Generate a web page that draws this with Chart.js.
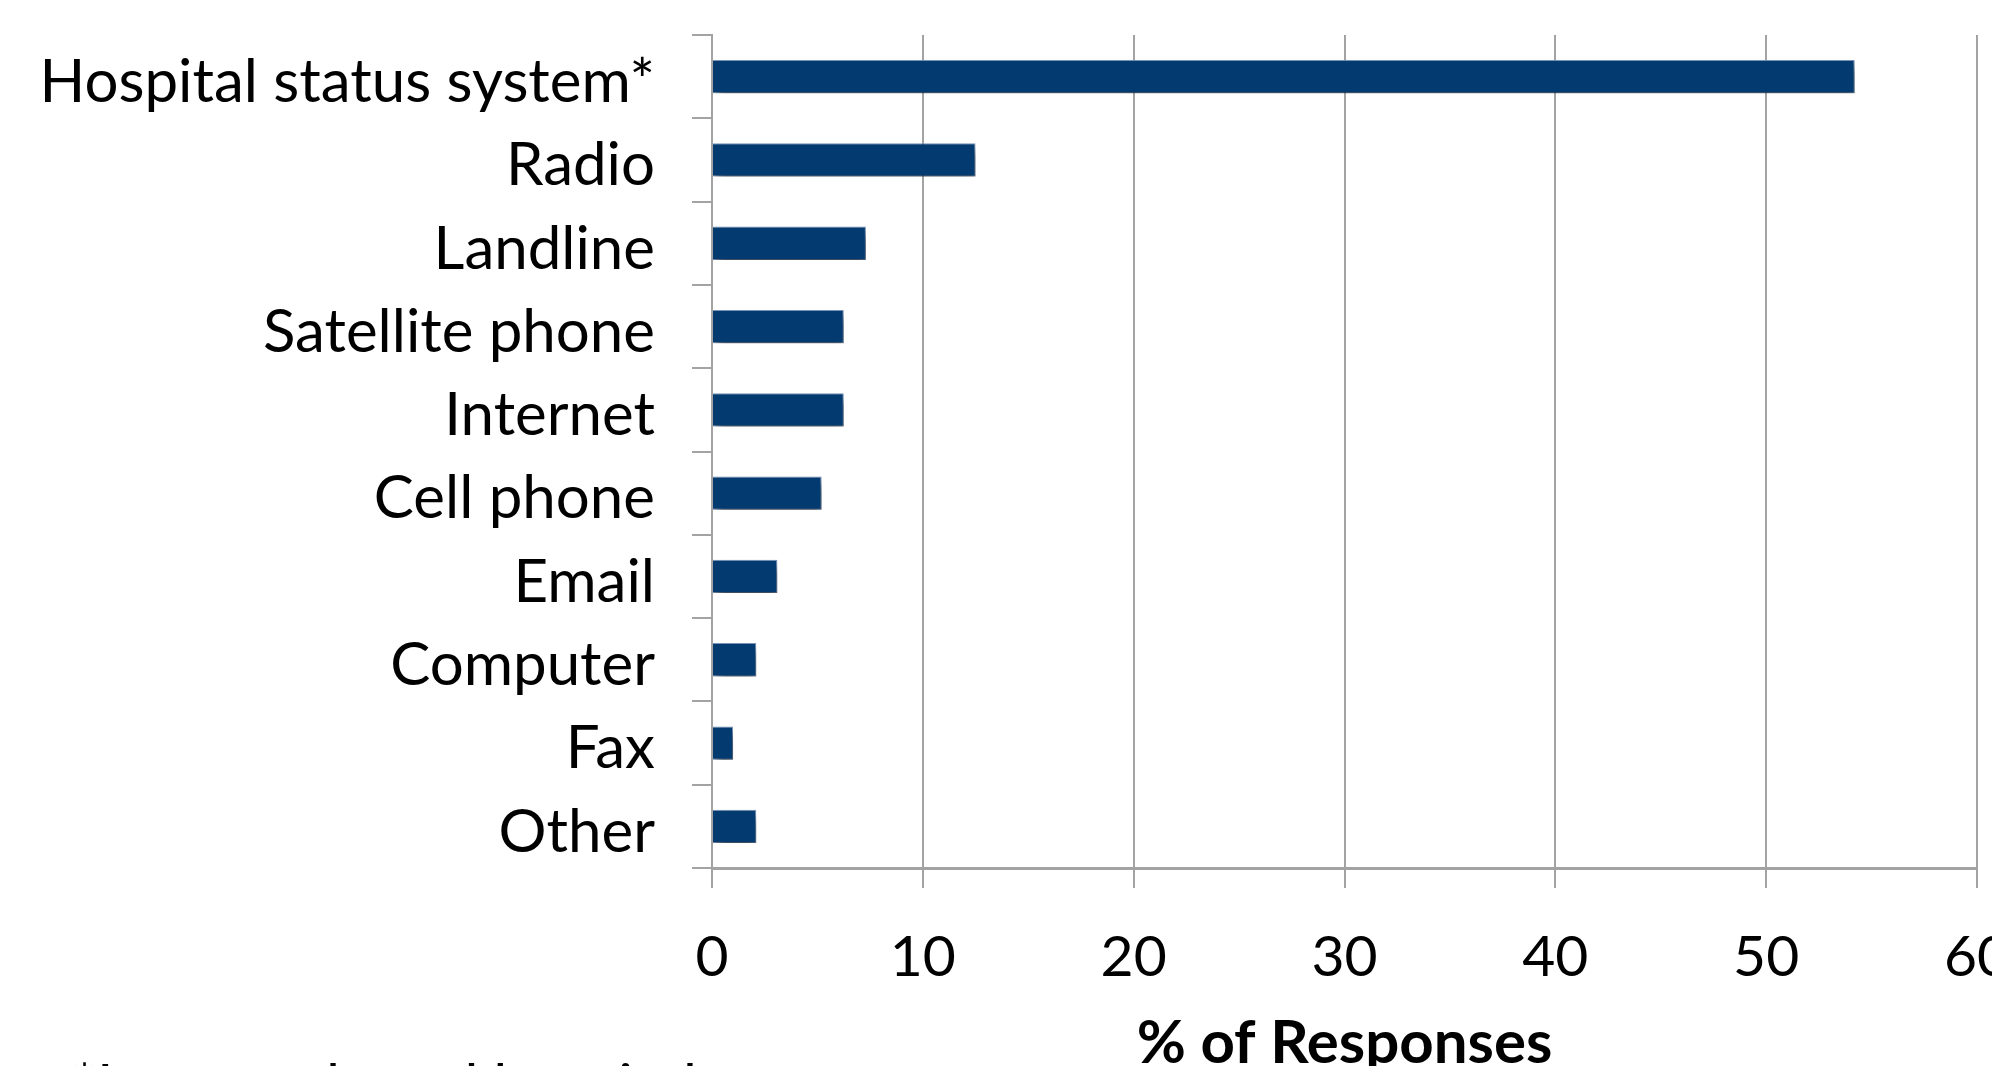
<!DOCTYPE html>
<html>
<head>
<meta charset="utf-8">
<script src="https://cdn.jsdelivr.net/npm/chart.js@4.4.1/dist/chart.umd.min.js"></script>
<style>
  html, body { margin: 0; padding: 0; background: #ffffff; overflow: hidden; width: 1992px; height: 1066px; }
  #wrap { position: absolute; left: 0; top: 0; width: 2100px; height: 1150px; }
  canvas { display: block; }
</style>
</head>
<body>
<div id="wrap"><canvas id="c" width="2100" height="1150"></canvas></div>
<script>
const categories = ['Hospital status system*', 'Radio', 'Landline', 'Satellite phone', 'Internet', 'Cell phone', 'Email', 'Computer', 'Fax', 'Other'];
const responsePercent = [54.2, 12.5, 7.3, 6.25, 6.25, 5.2, 3.1, 2.1, 1.0, 2.1];
const xTickValues = [0, 10, 20, 30, 40, 50, 60];
const xAxisTitle = '% of Responses';
const footnote = '*Internet-based hospital status system';

const FONT = 'Lato, "Open Sans", sans-serif';
const GRID = '#a3a3a3';

const shadowPlugin = {
  id: 'barShadow',
  beforeDatasetsDraw(chart) {
    const ctx = chart.ctx;
    ctx.save();
    ctx.shadowColor = 'rgba(0,0,0,0.55)';
    ctx.shadowBlur = 10;
    ctx.shadowOffsetX = 3;
    ctx.shadowOffsetY = 7;
  },
  afterDatasetsDraw(chart) {
    chart.ctx.restore();
  }
};

const footnotePlugin = {
  id: 'footnote',
  afterDraw(chart) {
    const ctx = chart.ctx;
    ctx.save();
    ctx.font = '59px ' + FONT;
    ctx.fillStyle = '#000000';
    ctx.textAlign = 'left';
    ctx.textBaseline = 'alphabetic';
    ctx.fillText(footnote, 72, 1106);
    ctx.restore();
  }
};

new Chart(document.getElementById('c'), {
  type: 'bar',
  data: {
    labels: categories,
    datasets: [{
      data: responsePercent,
      backgroundColor: '#033a70',
      borderColor: 'rgba(110,140,180,0.9)',
      borderWidth: 1,
      borderSkipped: 'start',
      categoryPercentage: 1.0,
      barPercentage: 0.4
    }]
  },
  plugins: [shadowPlugin, footnotePlugin],
  options: {
    indexAxis: 'y',
    responsive: false,
    maintainAspectRatio: false,
    devicePixelRatio: 1,
    animation: false,
    layout: { padding: { left: 0, top: 35, right: 123, bottom: 0 } },
    plugins: { legend: { display: false }, tooltip: { enabled: false }, title: { display: false } },
    scales: {
      x: {
        type: 'linear',
        position: 'bottom',
        min: 0,
        max: 60,
        afterBuildTicks(scale) { scale.ticks = xTickValues.map(v => ({ value: v })); },
        ticks: {
          color: '#000000',
          font: { family: FONT, size: 57 },
          padding: 35,
          maxRotation: 0,
          autoSkip: false
        },
        grid: { color: GRID, lineWidth: 2, tickLength: 20, drawTicks: true, drawOnChartArea: true },
        border: { display: true, color: GRID, width: 3 },
        title: {
          display: true,
          text: xAxisTitle,
          color: '#000000',
          font: { family: FONT, size: 60, weight: 'bold' },
          padding: { top: 0, bottom: 70 }
        },
        afterFit(scale) { scale.height = 282; scale.paddingLeft = 0; scale.paddingRight = 0; }
      },
      y: {
        type: 'category',
        position: 'left',
        offset: true,
        ticks: {
          color: '#000000',
          font: { family: FONT, size: 60 },
          padding: 37,
          labelOffset: 6,
          autoSkip: false
        },
        grid: { color: GRID, lineWidth: 2, tickLength: 20, drawTicks: true, drawOnChartArea: false, offset: true },
        border: { display: true, color: GRID, width: 2 },
        afterFit(scale) { scale.width = 712; scale.paddingTop = 0; scale.paddingBottom = 0; }
      }
    }
  }
});
</script>
</body>
</html>
